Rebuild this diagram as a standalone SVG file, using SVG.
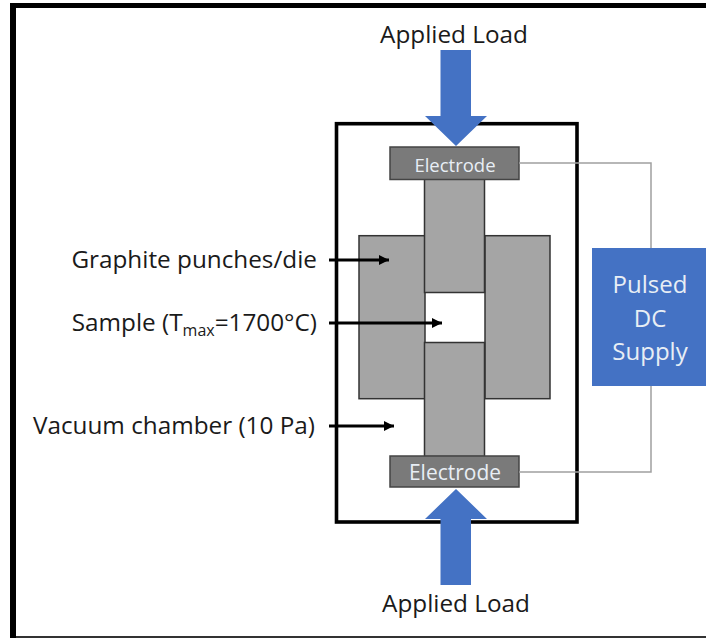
<svg xmlns="http://www.w3.org/2000/svg" width="706" height="638" viewBox="0 0 706 638">
<style>
text{font-family:"Open Sans","Noto Sans","Liberation Sans",sans-serif}
.lbl{font-size:24.300px;fill:#1a1a1a}
.wht{fill:#e8eef5}
.gr{fill:#a5a5a5;stroke:#333;stroke-width:1.5}
.el{fill:#7a7a7a;stroke:#444;stroke-width:1.5}
.wire{fill:none;stroke:#a0a0a0;stroke-width:1.5}
.ptr{fill:none;stroke:#000;stroke-width:3;marker-end:url(#ah)}
.blue{fill:#4472c4}
</style>
<defs><marker id="ah" markerUnits="userSpaceOnUse" markerWidth="10" markerHeight="12" refX="10" refY="6" orient="auto"><path d="M0,1 L10,6 L0,11 Z" fill="#000"/></marker></defs>
<rect width="706" height="638" fill="#fff"/>
<g id="frame"><path d="M10,3 H706 V8 H16 V638 H10 Z" fill="#000"/><rect x="16" y="636" width="690" height="2" fill="#333"/></g>
<g id="chamber"><rect x="336.500" y="123.700" width="240.500" height="398.300" fill="none" stroke="#000" stroke-width="3.600"/></g>
<g id="die-left"><rect class="gr" x="359" y="235.700" width="66" height="163"/></g>
<g id="die-right"><rect class="gr" x="485" y="235.700" width="65" height="163"/></g>
<g id="punch-top"><rect class="gr" x="424.500" y="178" width="60" height="114.500"/></g>
<g id="punch-bottom"><rect class="gr" x="424.500" y="342.500" width="60" height="114"/></g>
<g id="electrode-top"><rect class="el" x="390" y="147" width="129" height="32.500"/><text class="wht" x="455" y="172" font-size="18.500" text-anchor="middle">Electrode</text></g>
<g id="electrode-bottom"><rect class="el" x="390" y="456" width="129" height="31"/><text class="wht" x="455" y="480" font-size="21" text-anchor="middle">Electrode</text></g>
<g id="supply"><rect class="blue" x="592" y="248" width="114" height="138"/><text class="wht" font-size="24" text-anchor="middle"><tspan x="650" y="293">Pulsed</tspan><tspan x="650" y="327">DC</tspan><tspan x="650" y="360">Supply</tspan></text></g>
<g id="connectors">
<path class="wire" d="M519,163 H651 V248"/>
<path class="wire" d="M519,472 H651 V386"/>
<path class="ptr" d="M329,260 H389"/>
<path class="ptr" d="M329,323 H442"/>
<path class="ptr" d="M329,426 H394"/>
<path class="blue" d="M440.500,50 H471 V116 H487 L456,146 L425,116 H440.500 Z"/>
<path class="blue" d="M440.500,585 H471 V519 H487 L456,489 L425,519 H440.500 Z"/>
</g>
<g id="labels">
<text class="lbl" x="454" y="43" text-anchor="middle">Applied Load</text>
<text class="lbl" x="456" y="612" text-anchor="middle">Applied Load</text>
<text class="lbl" x="317" y="268" text-anchor="end">Graphite punches/die</text>
<text class="lbl" x="317" y="331" text-anchor="end">Sample (T<tspan font-size="16" dy="5">max</tspan><tspan dy="-5">=1700°C)</tspan></text>
<text class="lbl" x="315" y="434" text-anchor="end">Vacuum chamber (10 Pa)</text>
</g>
</svg>
